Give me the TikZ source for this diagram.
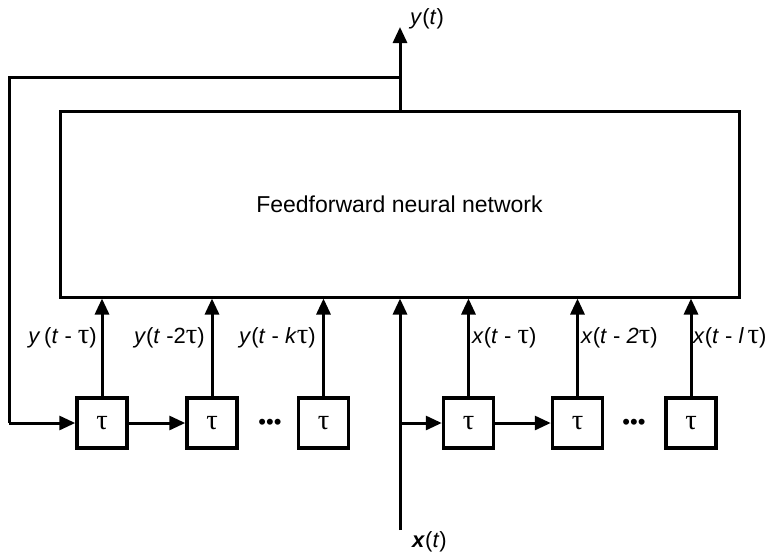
\documentclass[tikz,border=0pt]{standalone}
\usepackage{fontspec}
\setmainfont{Liberation Sans}
\newfontfamily\grk[Scale=1.3]{Liberation Serif}
\usetikzlibrary{arrows.meta}
\newcommand{\tu}{{\grk\upshape τ}}
\begin{document}
\begin{tikzpicture}[x=1pt,y=-1pt,
  ln/.style={line width=3pt},
  arr/.style={ln,-{Triangle[length=16pt,width=14pt]}},
  dbox/.style={draw,line width=3.5pt,minimum size=50pt,inner sep=0pt,font=\fontsize{22}{24}\selectfont},
  lbl/.style={font=\fontsize{22}{24}\selectfont,inner sep=0pt},
  dots/.style={font=\fontsize{22}{24}\selectfont,inner sep=0pt}]
\useasboundingbox (0,0) rectangle (769,555);
\node[draw,line width=3pt,minimum width=679pt,minimum height=186pt,inner sep=0pt,
  font=\fontsize{23}{26}\selectfont] (main) at (399.5,204) {Feedforward neural network};
\node[dbox] (b1) at (102,423) {\tu};
\node[dbox] (b2) at (212,423) {\tu};
\node[dbox] (b3) at (323.5,423) {\tu};
\node[dbox] (b4) at (468.5,423) {\tu};
\node[dbox] (b5) at (577.5,423) {\tu};
\node[dbox] (b6) at (691,423) {\tu};
\node[dots] (d1) at (270,424) {•••};
\node[dots] (d2) at (634,424) {•••};
% output
\coordinate (ytop) at (400,27);
\coordinate (fb) at (400,77);
\coordinate (fbl) at (9,77);
\coordinate (fbb) at (9,423);
\draw[arr] (main.north -| ytop) -- (ytop);
\draw[ln] (fb) -- (fbl) -- (fbb);
\draw[arr] (fbb) -- (b1.west);
\draw[arr] (b1) -- (b2);
\draw[arr] (b4) -- (b5);
% input
\coordinate (xin) at (400,530);
\coordinate (br) at (400,423);
\draw[arr] (xin) -- (xin |- main.south);
\draw[arr] (br) -- (b4.west);
\foreach \b in {b1,b2,b3,b4,b5,b6}{
  \draw[arr] (\b.north) -- (\b.north |- main.south);
}
% labels
\node[lbl,anchor=east] (l1) at (97,338) {\textit{y}\,(\textit{t} - \tu)};
\node[lbl,anchor=east] (l2) at (205,338) {\textit{y}(\textit{t} -2\tu)};
\node[lbl,anchor=east] (l3) at (316,338) {\textit{y}(\textit{t} - \textit{k}\tu)};
\node[lbl,anchor=west] (l4) at (472,338) {\textit{x}(\textit{t} - \tu)};
\node[lbl,anchor=west] (l5) at (581,338) {\textit{x}(\textit{t} - \textit{2}\tu)};
\node[lbl,anchor=west] (l6) at (693,338) {\textit{x}(\textit{t} - \textit{l}\,\tu)};
\node[lbl,anchor=west] (yt) at (410,19) {\textit{y}(\textit{t})};
\node[lbl,anchor=west] (xt) at (412,542) {\textbf{\textit{x}}(\textit{t})};
\end{tikzpicture}
\end{document}
